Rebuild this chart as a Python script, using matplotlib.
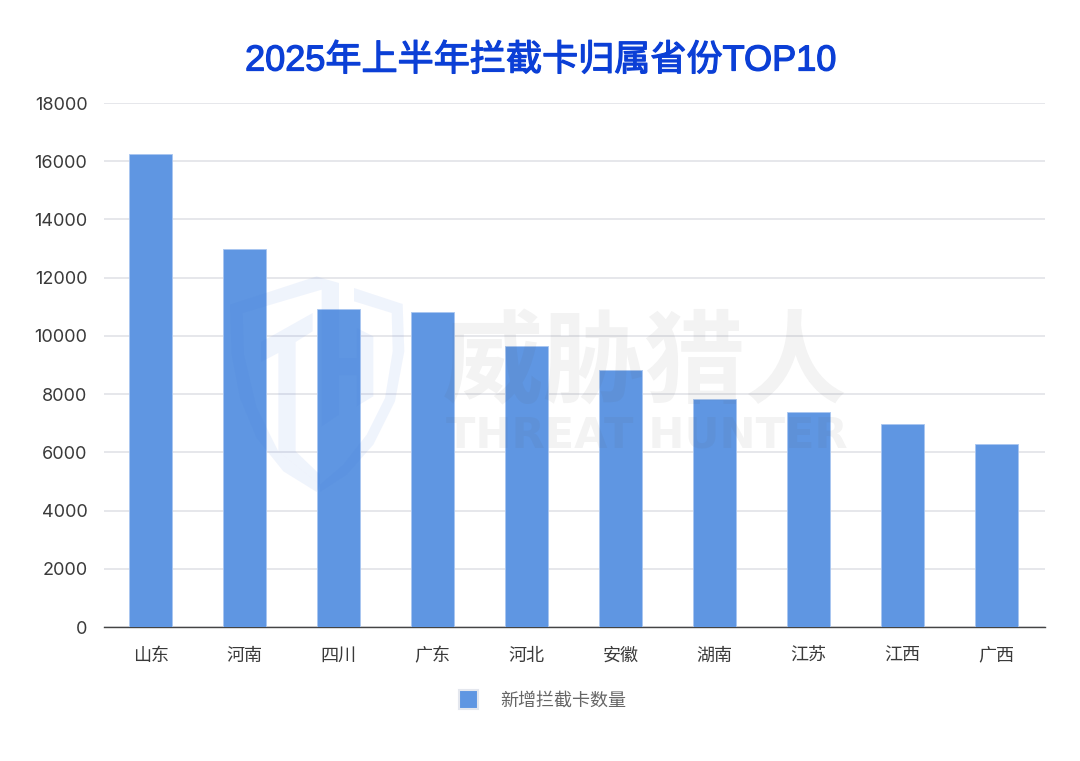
import matplotlib as mpl
import matplotlib.pyplot as plt
import matplotlib.patheffects as pe
from matplotlib.patches import Polygon, Rectangle

mpl.rcParams["font.family"] = ["Inter", "Noto Sans CJK SC", "DejaVu Sans"]

provinces = ["山东", "河南", "四川", "广东", "河北", "安徽", "湖南", "江苏", "江西", "广西"]
new_cards = [16250, 12985, 10925, 10810, 9660, 8820, 7830, 7370, 6960, 6300]
y_ticks = [0, 2000, 4000, 6000, 8000, 10000, 12000, 14000, 16000, 18000]

W, H = 1080, 761
fig = plt.figure(figsize=(W / 100, H / 100), dpi=100)
ax = fig.add_axes([104 / W, 1 - 627 / H, (1045 - 104) / W, (627 - 103) / H])

ax.bar(range(len(provinces)), new_cards, width=0.455, color="#5f96e2",
       edgecolor="#a9c6f0", linewidth=0.6, zorder=3)

# First bar centre sits just left of the band centre
ax.set_xlim(-0.495, 9.516)
ax.set_ylim(0, 18000)
ax.set_yticks(y_ticks)
ax.set_xticks(range(len(provinces)))
ax.set_xticklabels(provinces)
ax.tick_params(axis="x", length=0, pad=15, labelsize=13, labelcolor="#3a3a3a")
ax.tick_params(axis="y", length=0, pad=12, labelsize=13, labelcolor="#3a3a3a")
ax.grid(axis="y", color="#e2e3e7", linewidth=1.2, zorder=0)
for side in ["top", "left", "right"]:
    ax.spines[side].set_visible(False)
ax.spines["bottom"].set_color("#444444")
ax.spines["bottom"].set_linewidth(1.0)

# Title, thickened with a stroke since no medium weight is available
fig.text(541 / W, 1 - 61 / H, "2025年上半年拦截卡归属省份TOP10", ha="center", va="center",
         fontsize=26, fontweight=500, color="#0b3fd6",
         fontfamily=["Liberation Sans", "Noto Sans CJK SC"],
         path_effects=[pe.withStroke(linewidth=0.9, foreground="#0b3fd6")])

# Legend drawn by hand so the box sits where it does in the picture
fig.add_artist(Rectangle((459 / W, 1 - 709 / H), 19 / W, 19 / H, transform=fig.transFigure,
                         facecolor="#5f96e2", edgecolor="#e4e7ee", linewidth=1.5))
fig.text(500 / W, 1 - 701 / H, "新增拦截卡数量", ha="left", va="center",
         fontsize=13, color="#666666")


def px(points):
    return [((220 + x / 3) / W, 1 - (268 + y / 3) / H) for x, y in points]


shield_left = [(30, 110), (290, 25), (305, 30), (305, 65), (68, 135), (72, 260), (110, 420), (175, 550),
               (300, 650), (290, 672), (190, 610), (110, 510), (60, 390), (35, 260)]
shield_right = [(402, 60), (548, 108), (553, 250), (525, 400), (460, 530), (380, 620), (300, 672),
                (300, 650), (370, 590), (440, 500), (495, 390), (518, 250), (515, 135), (402, 100)]
stem = [(305, 30), (357, 45), (357, 270), (410, 270), (410, 180), (460, 205), (460, 385), (410, 415),
        (410, 322), (357, 322), (357, 440), (305, 475)]
h_left = [(278, 135), (278, 190), (227, 222), (227, 550), (300, 620), (300, 650), (175, 550),
          (175, 255), (123, 282), (123, 222)]
for pts in [shield_left, shield_right, stem, h_left]:
    fig.add_artist(Polygon(px(pts), closed=True, transform=fig.transFigure,
                           facecolor="#3f73e0", edgecolor="none", alpha=0.08, zorder=5))

fig.text(645 / W, 1 - 366 / H, "威胁猎人", ha="center", va="center", fontsize=73,
         fontweight="bold", color="#555555", alpha=0.07, zorder=5,
         fontfamily=["Noto Sans CJK SC"])
fig.text(647 / W, 1 - 435 / H, "THREAT HUNTER", ha="center", va="center", fontsize=31,
         fontweight="bold", color="#555555", alpha=0.07, zorder=5,
         fontfamily=["DejaVu Sans"])

fig.savefig("out.png", dpi=100, facecolor="white")
